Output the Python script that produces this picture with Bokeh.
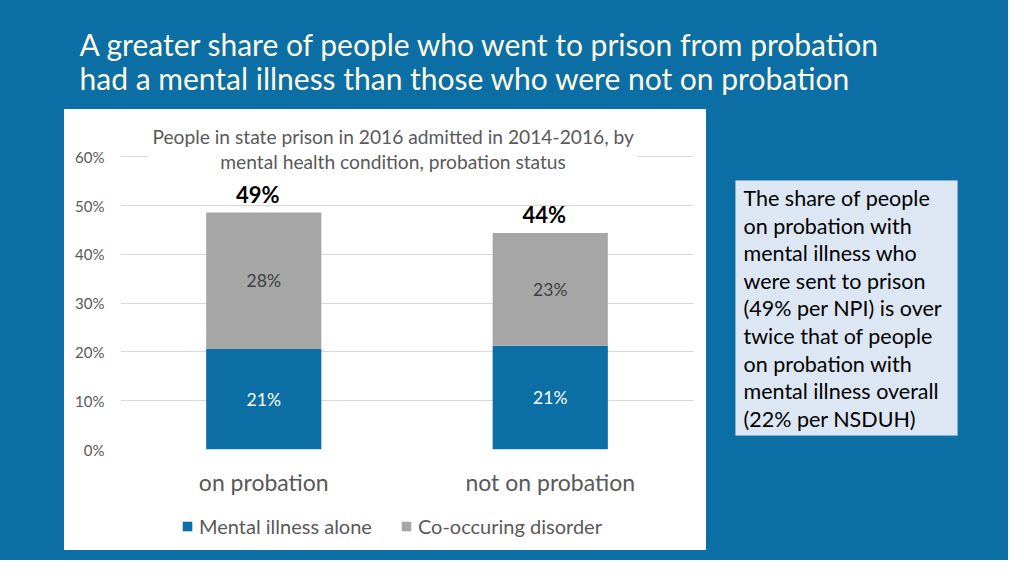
from bokeh.plotting import figure
from bokeh.layouts import column, row
from bokeh.models import (ColumnDataSource, FactorRange, Range1d, FixedTicker,
                          PrintfTickFormatter, BoxAnnotation, Label, Legend, LegendItem)
from bokeh.core.properties import value
from bokeh.embed import file_html
from bokeh.resources import INLINE

# ---- data ----
categories = ["on probation", "not on probation"]
mental_illness_alone = [20.6, 21.3]
co_occurring_disorder = [28.0, 23.1]
series_names = ["Mental illness alone", "Co-occuring disorder"]
y_ticks = [0, 10, 20, 30, 40, 50, 60]

slide_title = ["A greater share of people who went to prison from probation",
               "had a mental illness than those who were not on probation"]
chart_title = ("People in state prison in 2016 admitted in 2014-2016, by\n"
               "mental health condition, probation status")
note_text = ("The share of people\non probation with\nmental illness who\n"
             "were sent to prison\n(49% per NPI) is over\ntwice that of people\n"
             "on probation with\nmental illness overall\n(22% per NSDUH)")

BLUE = "#0b6fa5"
GRAY = "#a6a6a6"
TXT = "#595959"
FONT = "Lato"


def blank(w, h, color=BLUE, x_range=None):
    f = figure(width=w, height=h, x_range=x_range or Range1d(0, 1),
               y_range=Range1d(0, 1),
               output_backend="svg", toolbar_location=None, title=None,
               x_axis_location=None, y_axis_location=None, min_border=0,
               background_fill_color=color, border_fill_color=color,
               outline_line_color=None, frame_align=False)
    f.xgrid.visible = False
    f.ygrid.visible = False
    return f


# ---- slide title strip ----
top = blank(1008, 109)
for i, line in enumerate(slide_title):
    top.add_layout(Label(x=79, y=43.5 + 34.1 * i, x_units="canvas", y_units="canvas",
                         text=line, text_align="left", text_baseline="alphabetic",
                         text_font=FONT, text_font_size="30px", text_color="#fef9e1"))

# ---- chart panel ----
totals = [a + b for a, b in zip(mental_illness_alone, co_occurring_disorder)]
src = ColumnDataSource(dict(
    cat=categories,
    alone=mental_illness_alone,
    co=co_occurring_disorder,
    alone_mid=[a / 2 for a in mental_illness_alone],
    co_mid=[a + b / 2 for a, b in zip(mental_illness_alone, co_occurring_disorder)],
    total=totals,
    alone_lbl=[f"{round(a)}%" for a in mental_illness_alone],
    co_lbl=[f"{round(b)}%" for b in co_occurring_disorder],
    total_lbl=[f"{round(t)}%" for t in totals],
))

p = figure(width=642, height=398, x_range=FactorRange(*categories),
           y_range=Range1d(0, 69.74), output_backend="svg", toolbar_location=None,
           title=None, min_border_left=56, min_border_right=13, min_border_top=0,
           min_border_bottom=58, background_fill_color="white",
           border_fill_color="white", outline_line_color=None, frame_align=False)

p.vbar_stack(["alone", "co"], x="cat", width=0.402, color=[BLUE, GRAY],
             line_color=None, source=src)

p.text(x="cat", y="alone_mid", text="alone_lbl", source=src, text_align="center",
       text_baseline="middle", text_color="white", text_font=value(FONT),
       text_font_size=value("17.5px"))
p.text(x="cat", y="co_mid", text="co_lbl", source=src, text_align="center",
       text_baseline="middle", text_color="#404040", text_font=value(FONT),
       text_font_size=value("17.5px"))
p.text(x="cat", y="total", text="total_lbl", source=src, text_align="center",
       text_baseline="middle", text_color="black", text_font=value(FONT),
       text_font_size=value("22px"), text_font_style="bold", y_offset=-18.5,
       x_offset=-6)

p.yaxis.ticker = FixedTicker(ticks=y_ticks)
p.yaxis.formatter = PrintfTickFormatter(format="%d%%")
p.yaxis.axis_line_color = None
p.yaxis.major_tick_line_color = None
p.yaxis.minor_tick_line_color = None
p.yaxis.major_tick_out = 0
p.yaxis.major_label_standoff = 16
p.yaxis.major_label_text_font = FONT
p.yaxis.major_label_text_font_size = "15px"
p.yaxis.major_label_text_color = TXT

p.xaxis.axis_line_color = None
p.xaxis.major_tick_line_color = None
p.xaxis.major_tick_out = 0
p.xaxis.major_label_standoff = 18
p.xaxis.major_label_text_font = FONT
p.xaxis.major_label_text_font_size = "23px"
p.xaxis.major_label_text_color = TXT

p.xgrid.grid_line_color = None
p.ygrid.grid_line_color = "#d9d9d9"
p.ygrid.grid_line_width = 1

p.add_layout(Label(x=328.6, y=39.5, x_units="canvas", y_units="canvas", text=chart_title,
                   text_align="center", text_baseline="middle", text_font=FONT,
                   text_font_size="19.2px", text_color=TXT, text_line_height=1.07,
                   background_fill_color="white", padding=4))

# ---- legend strip under the chart (white) ----
leg = blank(642, 43, color="white", x_range=FactorRange(*categories))
lrs = leg.vbar_stack(["alone", "co"], x="cat", width=0.402, color=[BLUE, GRAY],
                     line_color=None, source=src, visible=False)
legend = Legend(items=[LegendItem(label=series_names[0], renderers=[lrs[0]]),
                       LegendItem(label=series_names[1], renderers=[lrs[1]])],
                orientation="horizontal", location=(117, 12), glyph_width=12,
                glyph_height=12, label_standoff=6, spacing=28, padding=0, margin=0,
                border_line_color=None, background_fill_alpha=0,
                inactive_fill_alpha=0,
                label_text_font=FONT, label_text_font_size="20px",
                label_text_color=TXT, label_height=20)
leg.add_layout(legend, "center")

# ---- side strips, bottom strip and note ----
foot = blank(642, 10)
left = blank(64, 451)
right = blank(302, 451)
right.add_layout(BoxAnnotation(left=29, right=251, top=71, bottom=326,
                               left_units="canvas", right_units="canvas",
                               top_units="canvas", bottom_units="canvas",
                               fill_color="#dde7f3", fill_alpha=1,
                               line_color="#a9bdd0", line_width=1))
right.add_layout(Label(x=37, y=198.9, x_units="canvas", y_units="canvas", text=note_text,
                       text_align="left", text_baseline="middle", text_font=FONT,
                       text_font_size="21.5px", text_color="black",
                       text_line_height=1.06))

bg = {"background-color": BLUE}
panel = column(column(p, leg, styles={"background-color": "white"}), foot, styles=bg)
root = column(top, row(left, panel, right, styles=bg), styles=bg)

open("out.html", "w").write(file_html(root, INLINE))
